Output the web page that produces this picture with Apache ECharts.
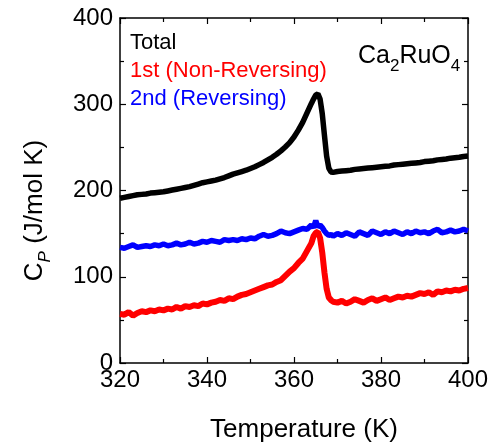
<!DOCTYPE html>
<html>
<head>
<meta charset="utf-8">
<script src="https://cdn.jsdelivr.net/npm/echarts@6/dist/echarts.min.js"></script>
<style>html,body{margin:0;padding:0;background:#fff;}#c{width:491px;height:448px;}</style>
</head>
<body>
<div id="c"></div>
<script>
// Temperature (K)
var temperature = [320,321,322,323,324,325,326,327,328,329,330,331,332,333,334,335,336,337,338,339,340,341,342,343,344,345,346,347,348,349,350,351,352,353,354,355,356,357,358,359,360,361,362,363,364,364.5,365,365.5,366,366.5,367,367.5,368,368.5,369,370,371,372,373,374,375,376,377,378,379,380,381,382,383,384,385,386,387,388,389,390,391,392,393,394,395,396,397,398,399,400];
// Total Cp (J/mol K)
var totalCp = [191,192,193,194,195,195.5,196,197,197.5,198,198.5,199.5,200.5,201.5,202.5,203.5,204.5,206,207.5,209,210,211,212,213.5,215,217,219,220.5,222,223.5,225.5,227.5,230,232.5,235.5,238.5,242,246,250.5,255.5,262,270,279,290,301,306,310.5,312,306,289,264,240,226,221.5,221,222,222.5,223,223.5,224.5,225,225.5,226,226.5,227,227.5,228,228.5,229.5,230,230.5,231,231.5,232,232.5,233.5,234,234.5,235.5,236,236.5,237.5,238,238.5,239.5,240];
// 1st (Non-Reversing)
var nonReversingCp = [57,56,59,55,58,60,59,61,60,62,61,63,62,65,63,66,65,67,66,69,68,70,71,73,72,75,74,77,79,80,82,84,86,88,90,91,94,96,101,106,110,116,121,130,139,147,151,152,145,128,105,86,76,73,71,70,72,69,71,74,72,70,73,75,72,74,76,73,75,77,76,78,77,79,81,80,82,79,83,82,84,83,85,84,86,87];
// 2nd (Reversing)
var reversingCp = [134,133,135,137,134,135,136,135,137,136,138,136,137,139,137,138,140,138,139,141,140,142,141,140,143,142,143,142,144,143,145,144,147,149,147,148,150,153,151,150,152,154,156,155,160,157,165,158,160,157,153,150,148,149,147,150,148,151,149,147,152,150,148,153,151,149,152,150,153,151,149,152,150,153,151,152,150,153,155,151,152,154,152,153,155,153];
var xTicks = [320,340,360,380,400];
var yTicks = [0,100,200,300,400];
var seriesNames = ['Total','1st (Non-Reversing)','2nd (Reversing)'];
var seriesColors = ['#000000','#ff0000','#0000ff'];

function pairs(vals){ return temperature.map(function(t,i){ return [t, vals[i]]; }); }

var chart = echarts.init(document.getElementById('c'), null, {renderer:'canvas'});
var font = 'Liberation Sans, Arial, sans-serif';
var axisCommon = {
  axisLine:{show:true, onZero:false, lineStyle:{color:'#000', width:1.5}},
  axisTick:{show:true, inside:true, length:6, lineStyle:{color:'#000', width:1.2}},
  minorTick:{show:true, splitNumber:2, length:4, lineStyle:{color:'#000', width:1.2}},
  splitLine:{show:false}
};
chart.setOption({
  animation:false,
  backgroundColor:'#fff',
  grid:{left:120, right:21, top:18, bottom:80, containLabel:false},
  legend:{
    orient:'vertical', left:125, top:32, padding:0, itemGap:6,
    itemWidth:0, itemHeight:0, icon:'rect', selectedMode:false,
    textStyle:{fontFamily:font, fontSize:22, lineHeight:22},
    data: seriesNames.map(function(n,i){ return {name:n, textStyle:{color:seriesColors[i]}}; })
  },
  xAxis:[
    Object.assign({type:'value', position:'bottom', min:xTicks[0], max:xTicks[xTicks.length-1], interval:20,
      name:'Temperature (K)', nameLocation:'middle', nameGap:54,
      nameTextStyle:{fontFamily:font, fontSize:26, color:'#000', padding:[0,0,0,20]},
      axisLabel:{fontFamily:font, fontSize:24, color:'#000', margin:5}}, axisCommon),
    Object.assign({type:'value', position:'top', min:xTicks[0], max:xTicks[xTicks.length-1], interval:20,
      axisLabel:{show:false}}, axisCommon)
  ],
  yAxis:[
    Object.assign({type:'value', position:'left', min:yTicks[0], max:yTicks[yTicks.length-1], interval:100,
      name:'{c|C}{p|P}{c| (J/mol K)}', nameLocation:'middle', nameGap:66, nameRotate:90,
      nameTextStyle:{fontFamily:font, color:'#000', padding:[0,40,0,0],
        rich:{c:{fontFamily:font, fontSize:26, color:'#000', padding:[0,0,6,0], verticalAlign:'bottom'},
              p:{fontFamily:font, fontSize:17, fontStyle:'italic', color:'#000', verticalAlign:'bottom'}}},
      axisLabel:{fontFamily:font, fontSize:24, color:'#000', margin:7}}, axisCommon),
    Object.assign({type:'value', position:'right', min:yTicks[0], max:yTicks[yTicks.length-1], interval:100,
      axisLabel:{show:false}}, axisCommon)
  ],
  graphic:[{
    type:'text', left:358, top:44,
    style:{
      text:'{m|Ca}{s|2}{m|RuO}{s|4}',
      rich:{m:{fontFamily:font, fontSize:25, fill:'#000', padding:[0,0,6,0], verticalAlign:'bottom'},
            s:{fontFamily:font, fontSize:17, fill:'#000', verticalAlign:'bottom'}}
    }
  }],
  series:[
    {name:seriesNames[0], type:'line', data:pairs(totalCp), showSymbol:false, symbol:'none',
      lineStyle:{color:seriesColors[0], width:5.5}, itemStyle:{color:seriesColors[0]}},
    {name:seriesNames[1], type:'line', data:pairs(nonReversingCp), showSymbol:false, symbol:'none',
      lineStyle:{color:seriesColors[1], width:6}, itemStyle:{color:seriesColors[1]}},
    {name:seriesNames[2], type:'line', data:pairs(reversingCp), showSymbol:false, symbol:'none',
      lineStyle:{color:seriesColors[2], width:5.5}, itemStyle:{color:seriesColors[2]}}
  ]
});
</script>
</body>
</html>
